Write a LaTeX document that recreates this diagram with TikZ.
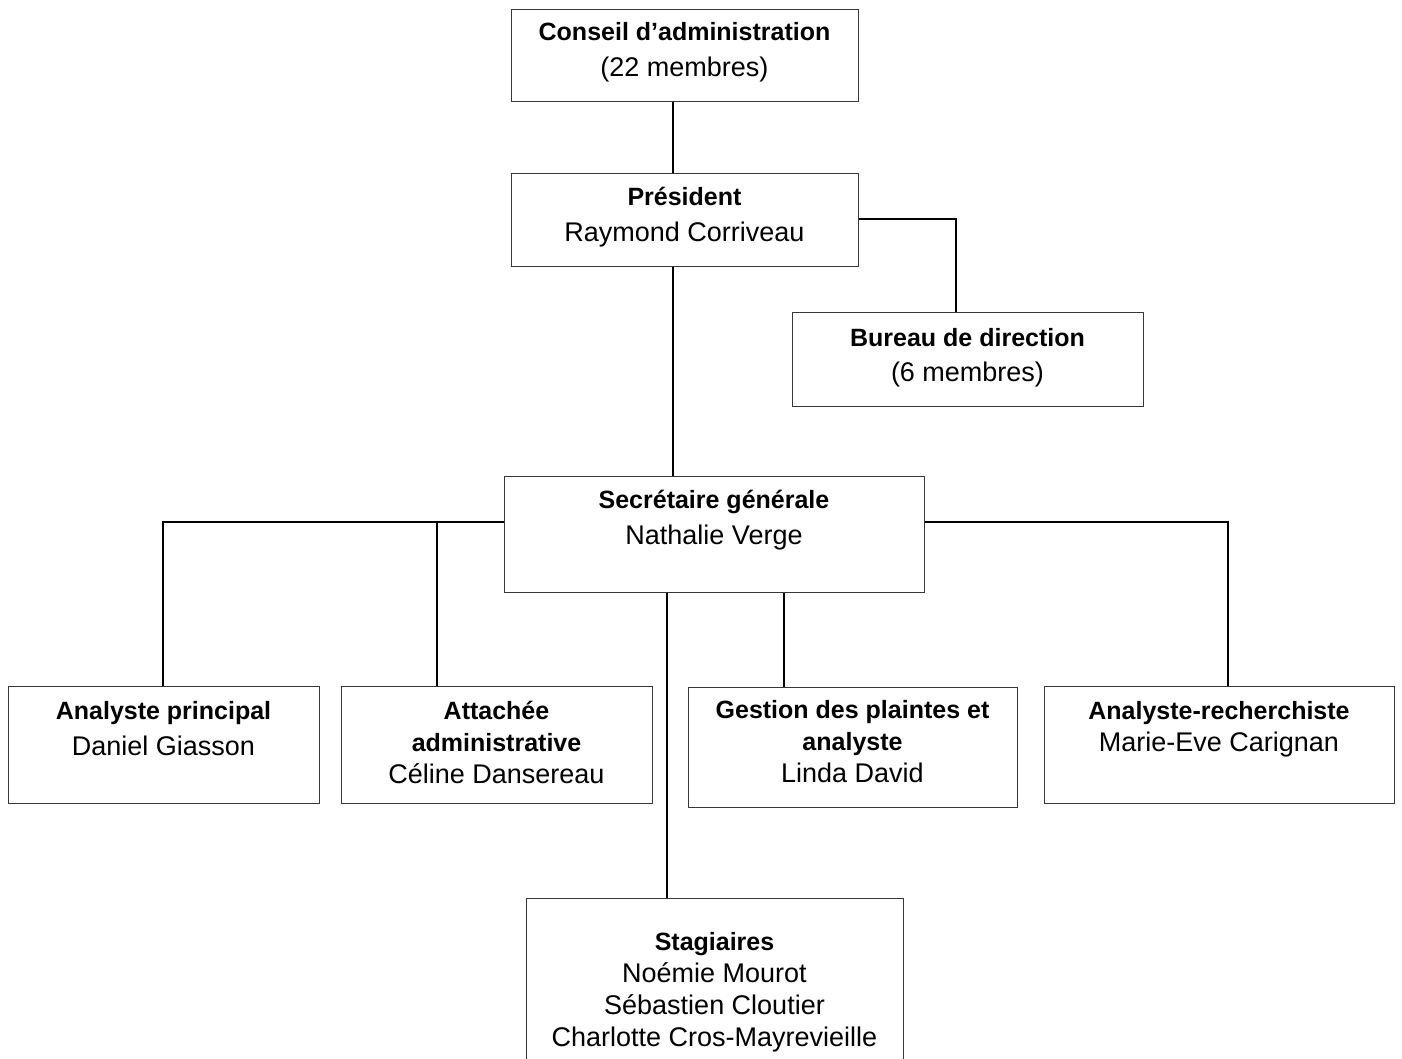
\documentclass[tikz,border=0pt]{standalone}
\usepackage{fontspec}
\setmainfont{Liberation Sans}
\usetikzlibrary{calc}
\newcommand\hd[1]{{\fontsize{25}{32}\selectfont\bfseries #1}}
\tikzset{
  box/.style={draw=black!78, line width=1.4pt, rectangle, inner sep=0pt, anchor=north west},
  txt/.style={align=center, inner sep=0pt, anchor=north, font=\fontsize{27}{32}\selectfont},
  link/.style={draw=black, line width=1.4pt},
}
\begin{document}
\begin{tikzpicture}[x=1pt,y=-1pt]
\useasboundingbox (0,0) rectangle (1402,1059);
\clip (0,0) rectangle (1402,1059);
\fill[white] (0,0) rectangle (1402,1059);

% boxes
\node[box, minimum width=347pt, minimum height=92pt] (ca) at (511,9) {};
\node[box, minimum width=347pt, minimum height=93pt] (pr) at (511,173) {};
\node[box, minimum width=351pt, minimum height=94pt] (bu) at (792,312) {};
\node[box, minimum width=420pt, minimum height=116pt] (sg) at (504,476) {};
\node[box, minimum width=311pt, minimum height=117pt] (ap) at (8,686) {};
\node[box, minimum width=311pt, minimum height=117pt] (at) at (341,686) {};
\node[box, minimum width=329pt, minimum height=120pt] (gp) at (688,687) {};
\node[box, minimum width=350pt, minimum height=117pt] (ar) at (1044,686) {};
\node[box, minimum width=377pt, minimum height=200pt] (st) at (526,898) {};

% texts
\node[txt] (ca-t) at (684.5,22) {\hd{Conseil d’administration}\\[4pt](22 membres)};
\node[txt] (pr-t) at (684.5,187) {\hd{Président}\\[4pt]Raymond Corriveau};
\node[txt] (bu-t) at (967.5,328) {\hd{Bureau de direction}\\[3pt](6 membres)};
\node[txt] (sg-t) at (714,490) {\hd{Secrétaire générale}\\[4pt]Nathalie Verge};
\node[txt] (ap-t) at (163.5,701) {\hd{Analyste principal}\\[4pt]Daniel Giasson};
\node[txt] (at-t) at (496.5,701) {\hd{Attachée}\\\hd{administrative}\\Céline Dansereau};
\node[txt] (gp-t) at (852.5,700) {\hd{Gestion des plaintes et}\\\hd{analyste}\\Linda David};
\node[txt] (ar-t) at (1219,701) {\hd{Analyste-recherchiste}\\Marie-Eve Carignan};
\node[txt] (st-t) at (714.5,932) {\hd{Stagiaires}\\Noémie Mourot\\Sébastien Cloutier\\Charlotte Cros-Mayrevieille};

% connector guides
\coordinate (xmain) at (673,0);
\coordinate (xbu) at (956,0);
\coordinate (ypr) at (0,219);
\coordinate (ybus) at (0,522);
\coordinate (xap) at (163,0);
\coordinate (xat) at (437,0);
\coordinate (xgp) at (784,0);
\coordinate (xst) at (667,0);
\coordinate (xar) at (1228,0);

% connectors
\draw[link] (ca.south -| xmain) -- (pr.north -| xmain);
\draw[link] (pr.south -| xmain) -- (sg.north -| xmain);
\draw[link] (pr.east |- ypr) -| (bu.north -| xbu);
\draw[link] (sg.west |- ybus) -| (ap.north -| xap);
\draw[link] (xat |- ybus) -- (at.north -| xat);
\draw[link] (sg.east |- ybus) -| (ar.north -| xar);
\draw[link] (sg.south -| xgp) -- (gp.north -| xgp);
\draw[link] (sg.south -| xst) -- (st.north -| xst);
\end{tikzpicture}
\end{document}
